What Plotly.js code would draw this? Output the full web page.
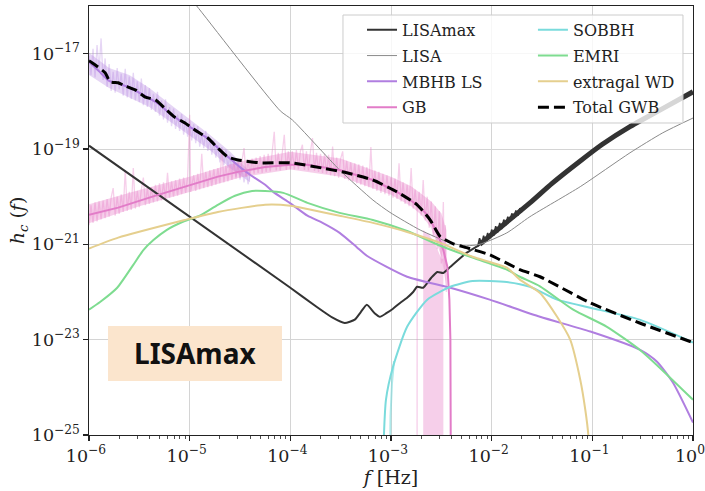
<!DOCTYPE html>
<html>
<head>
<meta charset="utf-8">
<script src="https://cdn.plot.ly/plotly-3.0.1.min.js"></script>
<style>html,body{margin:0;padding:0;background:#fff;}#chart{width:705px;height:491px;}</style>
</head>
<body>
<div id="chart"></div>
<script>
// ---- data (log10 f [Hz], log10 h_c) ----
const lisamaxLogF = [-6, -4.0, -3.74, -3.58, -3.46, -3.36, -3.30, -3.24, -3.16, -3.11, -3.05, -2.98, -2.91, -2.84, -2.78, -2.74, -2.68, -2.60, -2.54, -2.48, -2.41, -2.25, -2.12];
const lisamaxLogH = [-18.93, -21.91, -22.31, -22.54, -22.65, -22.58, -22.42, -22.27, -22.45, -22.52, -22.45, -22.35, -22.23, -22.12, -22.0, -21.89, -21.91, -21.70, -21.58, -21.60, -21.47, -21.18, -21.01];
const lisamaxHiLogF = [-2.12, -1.9, -1.62, -1.4, -1.12, -0.9, -0.626, -0.36, 0];
const lisamaxHiLogH = [-21.0, -20.62, -20.13, -19.72, -19.25, -18.9, -18.53, -18.22, -17.80];
const lisamaxCombLogF = [-2.14, -2.12, -2.10, -2.08, -2.06, -2.04, -2.02, -2.00, -1.98, -1.96, -1.94, -1.92, -1.90, -1.88, -1.86, -1.84, -1.82, -1.80, -1.78, -1.76, -1.74, -1.72, -1.70];
const lisamaxCombLogH = [-21.05, -20.87, -21.00, -20.82, -20.95, -20.76, -20.88, -20.69, -20.82, -20.62, -20.75, -20.55, -20.68, -20.48, -20.60, -20.42, -20.53, -20.35, -20.46, -20.29, -20.40, -20.24, -20.33];

const lisaLogF = [-5.0, -4.93, -4.10, -3.98, -3.51, -3.18, -3.01, -2.71, -2.41, -2.25, -2.12, -1.85, -1.62, -1.12, -0.626, -0.30, 0];
const lisaLogH = [-15.83, -16.0, -18.2, -18.39, -19.44, -20.07, -20.33, -20.70, -20.97, -21.03, -21.0, -20.76, -20.42, -19.79, -19.08, -18.66, -18.35];

const mbhbLogF = [-6, -5.9, -5.8, -5.7, -5.6, -5.5, -5.4, -5.3, -5.2, -5.1, -5.0, -4.9, -4.8, -4.7, -4.6, -4.5, -4.4, -4.25, -4.17, -4.0, -3.83, -3.68, -3.51, -3.34, -3.24, -2.84, -2.41, -2.02, -1.52, -1.02, -0.53, -0.36, -0.20, 0];
const mbhbLogH = [-17.17, -17.37, -17.57, -17.63, -17.71, -17.82, -17.94, -18.07, -18.25, -18.40, -18.53, -18.67, -18.81, -19.02, -19.20, -19.38, -19.54, -19.75, -19.90, -20.14, -20.40, -20.55, -20.76, -21.06, -21.24, -21.68, -21.91, -22.16, -22.52, -22.83, -23.21, -23.46, -23.90, -24.74];

// light noisy MBHB spectrum: band edges and spikes
const mbhbBandLogF = [-6.0, -5.8, -5.6, -5.4, -5.2, -5.0, -4.8, -4.6, -4.4];
const mbhbBandLowLogH = [-17.45, -17.72, -17.92, -18.12, -18.42, -18.72, -19.02, -19.40, -19.70];
const mbhbBandHighLogH = [-16.98, -17.30, -17.45, -17.72, -18.05, -18.38, -18.70, -19.05, -19.48];
const mbhbNoise = [[-6.00,-17.05],[-5.98,-17.45],[-5.96,-16.90],[-5.94,-17.50],[-5.92,-16.82],[-5.90,-17.35],[-5.88,-16.68],[-5.86,-17.55],[-5.84,-17.10],[-5.82,-17.70],[-5.80,-17.22],[-5.78,-17.78],[-5.76,-17.38],[-5.74,-17.82],[-5.72,-17.30],[-5.70,-17.75],[-5.68,-17.42],[-5.66,-17.88],[-5.64,-17.32],[-5.62,-17.92],[-5.60,-17.48],[-5.58,-17.95],[-5.56,-17.40],[-5.54,-17.98],[-5.52,-17.58],[-5.50,-18.02],[-5.48,-17.52],[-5.46,-18.08],[-5.44,-17.66],[-5.42,-18.12],[-5.40,-17.72],[-5.38,-18.18],[-5.36,-17.84],[-5.34,-18.22],[-5.32,-17.80],[-5.30,-18.30],[-5.28,-17.98],[-5.26,-18.38],[-5.24,-17.96],[-5.22,-18.45],[-5.20,-18.12],[-5.18,-18.52],[-5.16,-18.15],[-5.14,-18.58],[-5.12,-18.28],[-5.10,-18.62],[-5.08,-18.26],[-5.06,-18.70],[-5.04,-18.38],[-5.02,-18.74],[-5.00,-18.42],[-4.98,-18.82],[-4.96,-18.48],[-4.94,-18.88],[-4.92,-18.52],[-4.90,-18.95],[-4.88,-18.68],[-4.86,-18.98],[-4.84,-18.62],[-4.82,-19.04],[-4.80,-18.78],[-4.78,-19.12],[-4.76,-18.82],[-4.74,-19.18],[-4.72,-18.92],[-4.70,-19.28],[-4.68,-18.96],[-4.66,-19.34],[-4.64,-19.02],[-4.62,-19.40],[-4.60,-19.12],[-4.58,-19.48],[-4.56,-19.22],[-4.54,-19.58],[-4.52,-19.30],[-4.50,-19.64],[-4.48,-19.42],[-4.46,-19.70],[-4.44,-19.46],[-4.42,-19.74],[-4.40,-19.56]];

const gbLogF = [-6, -5.71, -5.37, -5.05, -4.88, -4.72, -4.52, -4.25, -4.0, -3.83, -3.51, -3.18, -2.94, -2.74, -2.64, -2.54, -2.48, -2.44, -2.42, -2.41, -2.405];
const gbLogH = [-20.38, -20.23, -20.0, -19.79, -19.69, -19.58, -19.48, -19.38, -19.33, -19.33, -19.44, -19.65, -19.90, -20.17, -20.38, -20.76, -21.12, -21.47, -22.16, -23.0, -26];

// light noisy GB spectrum: band edges, spikes and the gap region
const gbBandLogF = [-6.0, -5.5, -5.0, -4.5, -4.0, -3.5, -3.0, -2.8, -2.7, -2.6, -2.5, -2.45];
const gbBandLowLogH = [-20.56, -20.20, -19.90, -19.60, -19.43, -19.58, -19.96, -20.20, -20.38, -20.66, -21.25, -21.9];
const gbBandHighLogH = [-20.16, -19.86, -19.58, -19.26, -19.06, -19.20, -19.58, -19.78, -19.94, -20.10, -20.35, -20.7];
const gbNoise = [[-6.00,-20.60],[-5.98,-20.18],[-5.96,-20.55],[-5.94,-20.12],[-5.92,-20.52],[-5.90,-20.10],[-5.88,-20.48],[-5.86,-20.08],[-5.84,-20.45],[-5.82,-20.05],[-5.80,-20.42],[-5.78,-20.02],[-5.76,-19.82],[-5.74,-20.40],[-5.72,-20.00],[-5.70,-20.36],[-5.68,-19.95],[-5.66,-20.32],[-5.64,-19.44],[-5.62,-20.30],[-5.60,-19.90],[-5.58,-20.28],[-5.56,-19.40],[-5.54,-20.25],[-5.52,-19.88],[-5.50,-20.22],[-5.48,-19.85],[-5.46,-19.60],[-5.44,-20.18],[-5.42,-19.82],[-5.40,-20.15],[-5.38,-19.80],[-5.36,-20.12],[-5.34,-19.75],[-5.32,-20.10],[-5.30,-19.72],[-5.28,-20.08],[-5.26,-19.70],[-5.24,-20.05],[-5.22,-19.50],[-5.20,-20.02],[-5.18,-19.68],[-5.16,-20.00],[-5.14,-19.65],[-5.12,-19.98],[-5.10,-19.62],[-5.08,-19.95],[-5.06,-19.60],[-5.04,-19.92],[-5.02,-19.58],[-5.00,-18.28],[-4.99,-19.90],[-4.96,-19.55],[-4.94,-19.88],[-4.92,-19.52],[-4.90,-19.85],[-4.88,-19.10],[-4.86,-19.82],[-4.84,-19.48],[-4.82,-19.80],[-4.80,-19.45],[-4.78,-19.78],[-4.76,-19.42],[-4.74,-19.75],[-4.72,-19.40],[-4.70,-19.72],[-4.68,-19.00],[-4.66,-19.70],[-4.64,-19.35],[-4.62,-19.68],[-4.60,-19.32],[-4.58,-19.65],[-4.56,-19.30],[-4.54,-19.62],[-4.52,-19.28],[-4.50,-19.60],[-4.48,-19.25],[-4.46,-18.98],[-4.44,-19.58],[-4.42,-19.22],[-4.40,-19.55],[-4.38,-19.20],[-4.36,-19.52],[-4.34,-19.18],[-4.32,-19.50],[-4.30,-19.15],[-4.28,-19.50],[-4.26,-19.12],[-4.24,-19.48],[-4.22,-19.10],[-4.20,-19.47],[-4.18,-19.10],[-4.16,-18.64],[-4.14,-19.45],[-4.12,-19.08],[-4.10,-19.45],[-4.08,-19.05],[-4.06,-18.70],[-4.04,-19.44],[-4.02,-19.05],[-4.00,-19.43],[-3.98,-19.05],[-3.96,-19.43],[-3.94,-19.02],[-3.92,-19.43],[-3.90,-19.05],[-3.88,-18.91],[-3.86,-19.44],[-3.84,-19.05],[-3.82,-19.45],[-3.80,-19.05],[-3.78,-18.77],[-3.76,-19.46],[-3.74,-19.08],[-3.72,-19.48],[-3.70,-19.10],[-3.68,-19.50],[-3.66,-19.10],[-3.64,-19.52],[-3.62,-19.12],[-3.60,-19.55],[-3.58,-18.95],[-3.56,-19.57],[-3.54,-19.18],[-3.52,-19.60],[-3.50,-19.20],[-3.48,-19.05],[-3.46,-19.63],[-3.44,-19.25],[-3.42,-19.66],[-3.40,-19.28],[-3.38,-19.68],[-3.36,-19.30],[-3.34,-19.72],[-3.32,-19.32],[-3.30,-19.75],[-3.28,-19.35],[-3.26,-19.78],[-3.24,-19.38],[-3.22,-19.80],[-3.20,-18.96],[-3.18,-19.84],[-3.16,-19.45],[-3.14,-19.88],[-3.12,-19.48],[-3.10,-19.92],[-3.08,-19.52],[-3.06,-19.95],[-3.04,-19.55],[-3.02,-19.98],[-3.00,-19.60],[-2.98,-20.02],[-2.96,-19.62],[-2.94,-20.05],[-2.92,-19.30],[-2.90,-20.10],[-2.88,-19.70],[-2.86,-20.15],[-2.84,-19.75],[-2.82,-20.20],[-2.80,-19.40],[-2.78,-20.25],[-2.76,-19.85],[-2.74,-20.32],[-2.741,-26],[-2.739,-20.30],[-2.72,-19.90],[-2.70,-20.40],[-2.68,-19.65],[-2.66,-20.50],[-2.64,-20.00],[-2.62,-20.65],[-2.60,-20.10],[-2.58,-20.85],[-2.56,-20.20],[-2.54,-21.10],[-2.52,-20.30],[-2.50,-21.40],[-2.48,-20.11],[-2.47,-21.60],[-2.46,-20.60],[-2.45,-22.0]];
const gbGapLogF = [-2.68, -2.68, -2.62, -2.56, -2.50, -2.48, -2.48];
const gbGapLogH = [-26, -20.7, -20.8, -21.0, -21.3, -21.3, -26];

const sobbhLogF = [-3.085, -3.05, -2.98, -2.84, -2.64, -2.41, -2.19, -1.85, -1.62, -1.35, -1.02, -0.53, 0];
const sobbhLogH = [-26, -24.26, -23.57, -22.73, -22.16, -21.89, -21.77, -21.79, -21.89, -22.16, -22.33, -22.58, -23.06];
const sobbhNoiseLogF = [-3.012, -3.005, -2.99, -2.97];
const sobbhNoiseLogH = [-26, -24.6, -23.9, -23.45];

const emriLogF = [-6, -5.89, -5.72, -5.56, -5.46, -5.36, -5.23, -5.05, -4.90, -4.72, -4.55, -4.38, -4.25, -4.07, -3.83, -3.51, -3.18, -2.84, -2.51, -2.19, -1.85, -1.72, -1.52, -1.19, -0.855, -0.53, -0.36, 0];
const emriLogH = [-22.37, -22.21, -21.91, -21.43, -21.12, -20.91, -20.70, -20.51, -20.40, -20.17, -19.98, -19.88, -19.88, -19.92, -20.13, -20.34, -20.49, -20.72, -21.03, -21.28, -21.53, -21.68, -21.88, -22.37, -22.73, -23.21, -23.53, -24.26];

const wdLogF = [-6, -5.71, -5.05, -4.72, -4.25, -4.00, -3.83, -3.51, -3.18, -2.84, -2.51, -2.19, -1.85, -1.72, -1.52, -1.35, -1.22, -1.12, -1.07, -1.04, -1.03];
const wdLogH = [-21.09, -20.86, -20.49, -20.32, -20.17, -20.19, -20.26, -20.40, -20.55, -20.74, -20.97, -21.26, -21.49, -21.74, -22.02, -22.52, -23.00, -23.84, -24.47, -25.0, -25.5];

const totalLogF = [-6, -5.97, -5.84, -5.79, -5.71, -5.66, -5.54, -5.44, -5.34, -5.25, -5.15, -5.05, -4.92, -4.82, -4.72, -4.62, -4.52, -4.30, -4.00, -3.68, -3.44, -3.18, -2.94, -2.74, -2.61, -2.51, -2.38, -2.25, -2.02, -1.72, -1.52, -1.02, -0.53, 0];
const totalLogH = [-17.15, -17.19, -17.40, -17.59, -17.61, -17.66, -17.76, -17.91, -17.97, -18.14, -18.33, -18.45, -18.64, -18.77, -18.98, -19.17, -19.23, -19.29, -19.29, -19.40, -19.50, -19.65, -19.90, -20.17, -20.49, -20.84, -20.99, -21.07, -21.22, -21.53, -21.68, -22.23, -22.65, -23.06];

const seriesNames = ['LISAmax', 'LISA', 'MBHB LS', 'GB', 'SOBBH', 'EMRI', 'extragal WD', 'Total GWB'];
const boxLabel = 'LISAmax';

// ---- helpers ----
const P = a => a.map(v => Math.pow(10, v));
const PX = a => a.map(p => Math.pow(10, p[0]));
const PY = a => a.map(p => Math.pow(10, p[1]));

const C = {
  lisamax: '#333333', lisa: '#8a8a8a', mbhb: '#b07ee0', mbhbLight: 'rgba(176,126,224,0.32)',
  gb: '#e27cc8', gbLight: 'rgba(232,130,200,0.38)', sobbh: '#7adbdc', emri: '#7edc90', wd: '#e5cf8e'
};
const skip = {showlegend: false, hoverinfo: 'skip'};

const traces = [
  Object.assign({x: P(mbhbBandLogF), y: P(mbhbBandLowLogH), mode: 'lines', line: {width: 0, color: C.mbhbLight}}, skip),
  Object.assign({x: P(mbhbBandLogF), y: P(mbhbBandHighLogH), mode: 'lines', fill: 'tonexty', fillcolor: C.mbhbLight, line: {width: 0, color: C.mbhbLight}}, skip),
  Object.assign({x: PX(mbhbNoise), y: PY(mbhbNoise), mode: 'lines', line: {color: C.mbhbLight, width: 1.3}}, skip),
  Object.assign({x: P(gbBandLogF), y: P(gbBandLowLogH), mode: 'lines', line: {width: 0, color: C.gbLight}}, skip),
  Object.assign({x: P(gbBandLogF), y: P(gbBandHighLogH), mode: 'lines', fill: 'tonexty', fillcolor: C.gbLight, line: {width: 0, color: C.gbLight}}, skip),
  Object.assign({x: P(gbGapLogF), y: P(gbGapLogH), mode: 'lines', fill: 'toself', fillcolor: C.gbLight, line: {width: 0, color: C.gbLight}}, skip),
  Object.assign({x: PX(gbNoise), y: PY(gbNoise), mode: 'lines', line: {color: C.gbLight, width: 1.3}}, skip),
  Object.assign({x: P(sobbhNoiseLogF), y: P(sobbhNoiseLogH), mode: 'lines', line: {color: 'rgba(122,219,220,0.6)', width: 2}}, skip),
  {x: P(lisamaxLogF), y: P(lisamaxLogH), name: seriesNames[0], legend: 'legend', mode: 'lines', line: {color: C.lisamax, width: 2, shape: 'spline', smoothing: 0.5}},
  Object.assign({x: P(lisamaxCombLogF), y: P(lisamaxCombLogH), mode: 'lines', line: {color: C.lisamax, width: 1.5}}, skip),
  Object.assign({x: P(lisamaxHiLogF), y: P(lisamaxHiLogH), mode: 'lines', line: {color: C.lisamax, width: 5, shape: 'spline', smoothing: 0.5}}, skip),
  {x: P(lisaLogF), y: P(lisaLogH), name: seriesNames[1], legend: 'legend', mode: 'lines', line: {color: C.lisa, width: 1, shape: 'spline', smoothing: 0.6}},
  {x: P(mbhbLogF), y: P(mbhbLogH), name: seriesNames[2], legend: 'legend', mode: 'lines', line: {color: C.mbhb, width: 2, shape: 'spline', smoothing: 0.6}},
  {x: P(gbLogF), y: P(gbLogH), name: seriesNames[3], legend: 'legend', mode: 'lines', line: {color: C.gb, width: 2}},
  {x: P(sobbhLogF), y: P(sobbhLogH), name: seriesNames[4], legend: 'legend2', mode: 'lines', line: {color: C.sobbh, width: 2, shape: 'spline', smoothing: 0.6}},
  {x: P(emriLogF), y: P(emriLogH), name: seriesNames[5], legend: 'legend2', mode: 'lines', line: {color: C.emri, width: 2, shape: 'spline', smoothing: 0.6}},
  {x: P(wdLogF), y: P(wdLogH), name: seriesNames[6], legend: 'legend2', mode: 'lines', line: {color: C.wd, width: 2, shape: 'spline', smoothing: 0.6}},
  {x: P(totalLogF), y: P(totalLogH), name: seriesNames[7], legend: 'legend2', mode: 'lines', line: {color: '#000000', width: 3, dash: '11px,5px', shape: 'spline', smoothing: 0.5}}
];
traces.forEach((t, i) => { if (t.showlegend !== false) t.legendgroup = 'g' + i; });

const tickFont = {family: 'DejaVu Serif', size: 14, color: '#222'};
const titleFont = {family: 'DejaVu Serif', size: 19, color: '#222'};
const legendFont = {family: 'DejaVu Serif', size: 16, color: '#222'};
const legendCommon = {
  xanchor: 'left', yanchor: 'top', orientation: 'v', traceorder: 'grouped', tracegroupgap: 2,
  bgcolor: 'rgba(0,0,0,0)', borderwidth: 0, font: legendFont
};

const layout = {
  width: 705, height: 491,
  margin: {l: 89, r: 12, t: 6, b: 56},
  paper_bgcolor: '#ffffff', plot_bgcolor: '#ffffff',
  showlegend: true,
  xaxis: {
    type: 'log', range: [-6, 0], dtick: 1, exponentformat: 'power',
    labelalias: {'1': '10<sup>0</sup>'}, ticklabeloverflow: 'allow', ticklabelshift: -3,
    showgrid: true, gridcolor: '#d4d4d4', gridwidth: 1,
    showline: true, linecolor: '#222', linewidth: 1.3, mirror: true,
    ticks: 'outside', ticklen: 5, tickwidth: 1.1, tickcolor: '#222',
    minor: {ticks: 'outside', ticklen: 3, tickwidth: 0.8, tickcolor: '#222', showgrid: false},
    tickfont: tickFont, zeroline: false,
    title: {text: '<i>f</i> [Hz]', font: titleFont, standoff: 4},
    automargin: false
  },
  yaxis: {
    type: 'log', range: [-25, -16], dtick: 2, tick0: -25, exponentformat: 'power',
    ticklabeloverflow: 'allow',
    showgrid: true, gridcolor: '#d4d4d4', gridwidth: 1,
    showline: true, linecolor: '#222', linewidth: 1.3, mirror: true,
    ticks: 'outside', ticklen: 5, tickwidth: 1.1, tickcolor: '#222',
    tickfont: tickFont, zeroline: false,
    title: {text: '<i>h</i><sub><i>c</i></sub> (<i>f</i>)', font: titleFont, standoff: 2},
    automargin: false
  },
  legend: Object.assign({x: 0.452, y: 0.984}, legendCommon),
  legend2: Object.assign({x: 0.735, y: 0.984}, legendCommon),
  shapes: [
    {type: 'rect', xref: 'paper', yref: 'paper', x0: 0.4205, x1: 0.9834, y0: 0.7273, y1: 0.979, fillcolor: 'rgba(255,255,255,0.8)', line: {width: 1, color: '#cccccc'}, layer: 'above'},
    {type: 'rect', xref: 'paper', yref: 'paper', x0: 0.0315, x1: 0.3195, y0: 0.126, y1: 0.254, fillcolor: '#fbe5cd', line: {width: 0}, layer: 'above'}
  ],
  annotations: [
    {xref: 'paper', yref: 'paper', x: 0.1755, y: 0.19, text: '<b>' + boxLabel + '</b>', showarrow: false, font: {family: 'Noto Sans', size: 28, color: '#111'}, xanchor: 'center', yanchor: 'middle'}
  ]
};

Plotly.newPlot('chart', traces, layout, {displayModeBar: false, staticPlot: true});
</script>
</body>
</html>
